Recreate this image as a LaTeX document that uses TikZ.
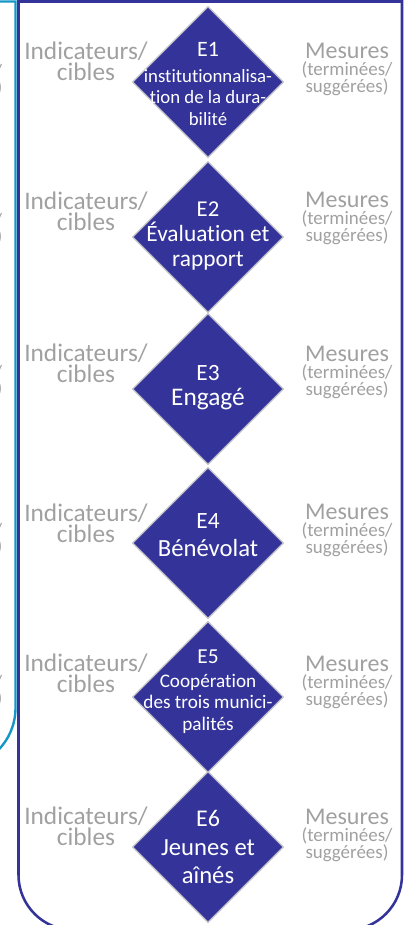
\documentclass[tikz,border=0pt]{standalone}
\usepackage{fontspec}
\setmainfont{Carlito}[Ligatures=NoCommon]
\usetikzlibrary{shapes.geometric}
\definecolor{navy}{RGB}{51,51,153}
\definecolor{tealline}{RGB}{20,150,200}
\definecolor{sidegray}{RGB}{160,160,160}
\definecolor{diaborder}{RGB}{190,190,198}
\newcommand{\fsz}[2]{\fontsize{#1}{#2}\selectfont}

\begin{document}
\begin{tikzpicture}[x=0.75pt,y=0.75pt,yscale=-1,xscale=1,
  dia/.style={diamond, draw=diaborder, fill=navy, line width=0.9pt, minimum width=113.25pt, minimum height=113.25pt, inner sep=0pt},
  ind/.style={anchor=base, align=center, inner sep=0.75pt, text=sidegray, font=\fsz{19pt}{15.4pt}},
  mes/.style={anchor=base, inner sep=0.75pt, text=sidegray, font=\fsz{18pt}{18pt}},
  mesmall/.style={anchor=base, align=center, inner sep=0.75pt, text=sidegray, font=\fsz{14.2pt}{12.4pt}},
  frag/.style={anchor=base east, inner sep=0pt, text=sidegray, font=\fsz{14.2pt}{14.2pt}},
  intxt/.style={anchor=base, align=center, inner sep=0.75pt, text=white}]
\clip (0,0) rectangle (414,925);

% Shape: Rectangle (left panel)
\draw [color=tealline, line width=1.8pt] (-80,1.5) -- (15.5,1.5) -- (15.5,708) arc [start angle=0, end angle=90, radius=60] ;
% Shape: Rectangle (main panel)
\draw [color=navy, line width=1.9pt] (18.5,1.5) -- (18.5,875) arc [start angle=180, end angle=90, radius=55] -- (347,930) arc [start angle=90, end angle=0, radius=55] -- (402,1.5) -- cycle ;

% Text Node (cut off, left panel)
\draw (2.5,77) node [frag] (fa1) {(terminées/};
\draw (2.5,93) node [frag] (fb1) {suggérées)};
\draw (2.5,226) node [frag] (fa2) {(terminées/};
\draw (2.5,242) node [frag] (fb2) {suggérées)};
\draw (2.5,378) node [frag] (fa3) {(terminées/};
\draw (2.5,394) node [frag] (fb3) {suggérées)};
\draw (2.5,536) node [frag] (fa4) {(terminées/};
\draw (2.5,552) node [frag] (fb4) {suggérées)};
\draw (2.5,688) node [frag] (fa5) {(terminées/};
\draw (2.5,704) node [frag] (fb5) {suggérées)};

% Shape: Diamond
\draw (208,82) node [dia] (e1) {};
\draw (208,237) node [dia] (e2) {};
\draw (208,389) node [dia] (e3) {};
\draw (208,543) node [dia] (e4) {};
\draw (208,697) node [dia] (e5) {};
\draw (208,847) node [dia] (e6) {};

% Text Node
\draw (86,80.5) node [ind] (ind1) {Indicateurs/\\cibles};
\draw (86,230.5) node [ind] (ind2) {Indicateurs/\\cibles};
\draw (86,382.5) node [ind] (ind3) {Indicateurs/\\cibles};
\draw (86,542.5) node [ind] (ind4) {Indicateurs/\\cibles};
\draw (86,692.5) node [ind] (ind5) {Indicateurs/\\cibles};
\draw (86,845.5) node [ind] (ind6) {Indicateurs/\\cibles};

% Text Node
\draw (347,58) node [mes] (mes1) {Mesures};
\draw (347,92) node [mesmall] (ter1) {(terminées/\\suggérées)};
\draw (347,207) node [mes] (mes2) {Mesures};
\draw (347,241) node [mesmall] (ter2) {(terminées/\\suggérées)};
\draw (347,361) node [mes] (mes3) {Mesures};
\draw (347,395) node [mesmall] (ter3) {(terminées/\\suggérées)};
\draw (347,519) node [mes] (mes4) {Mesures};
\draw (347,553) node [mesmall] (ter4) {(terminées/\\suggérées)};
\draw (347,671) node [mes] (mes5) {Mesures};
\draw (347,705) node [mesmall] (ter5) {(terminées/\\suggérées)};
\draw (347,824) node [mes] (mes6) {Mesures};
\draw (347,858) node [mesmall] (ter6) {(terminées/\\suggérées)};

% Text Node (E1)
\draw (208,56.5) node [intxt, font=\fsz{16.5pt}{16.5pt}] (lab1) {E1};
\draw (208,125) node [intxt, font=\fsz{14.1pt}{16.1pt}] (txt1) {institutionnalisa-\\tion de la dura-\\bilité};
% Text Node (E2)
\draw (208,216) node [intxt, font=\fsz{17pt}{17pt}] (lab2) {E2};
\draw (208,266.5) node [intxt, font=\fsz{17.5pt}{18.75pt}] (txt2) {Évaluation et\\rapport};
% Text Node (E3)
\draw (208,380) node [intxt, font=\fsz{17.5pt}{17.5pt}] (lab3) {E3};
\draw (208,405) node [intxt, font=\fsz{19pt}{19pt}] (txt3) {Engagé};
% Text Node (E4)
\draw (208,528) node [intxt, font=\fsz{17.5pt}{17.5pt}] (lab4) {E4};
\draw (208,556) node [intxt, font=\fsz{18.5pt}{18.5pt}] (txt4) {Bénévolat};
% Text Node (E5)
\draw (208,663) node [intxt, font=\fsz{16pt}{16pt}] (lab5) {E5};
\draw (208,730) node [intxt, font=\fsz{14.4pt}{16.1pt}] (txt5) {Coopération\\des trois munici-\\palités};
% Text Node (E6)
\draw (208,826) node [intxt, font=\fsz{18pt}{18pt}] (lab6) {E6};
\draw (208,883) node [intxt, font=\fsz{18.5pt}{21pt}] (txt6) {Jeunes et\\aînés};

\end{tikzpicture}
\end{document}
